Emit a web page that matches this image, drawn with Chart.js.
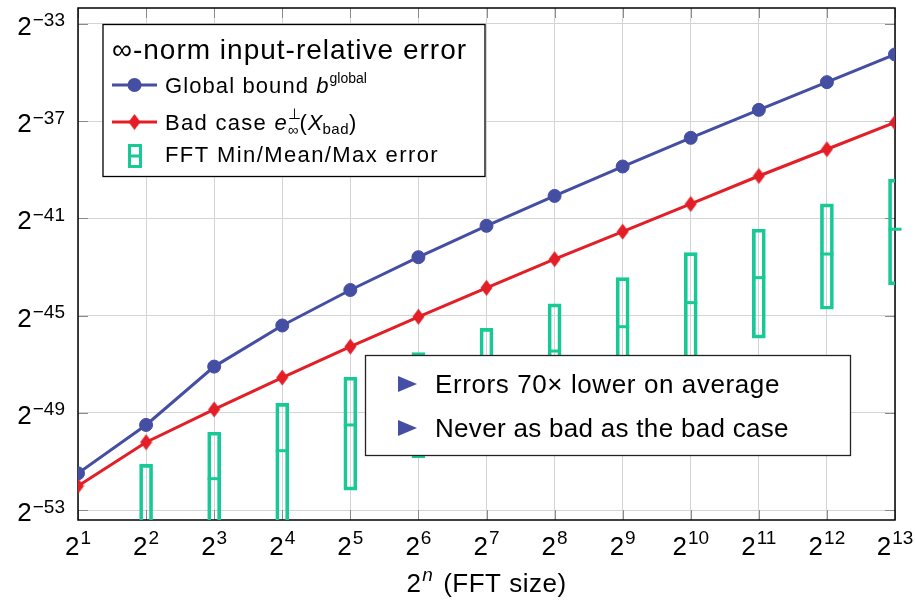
<!DOCTYPE html>
<html>
<head>
<meta charset="utf-8">
<script src="https://cdn.jsdelivr.net/npm/chart.js@4/dist/chart.umd.min.js"></script>
<style>
  html, body { margin: 0; padding: 0; background: #fff; }
  #wrap { width: 915px; height: 602px; }
</style>
</head>
<body>
<div id="wrap"><canvas id="c" width="915" height="602"></canvas></div>
<script>
// FFT size exponents n (x axis shows 2^n)
const xExps = [1, 2, 3, 4, 5, 6, 7, 8, 9, 10, 11, 12, 13];
// y axis tick exponents (values are log2 of the error)
const yTickExps = [-53, -49, -45, -41, -37, -33];

// log2 of the global error bound b^global
const globalBound = [-51.49, -49.50, -47.10, -45.41, -43.95, -42.60, -41.31, -40.08, -38.87, -37.69, -36.54, -35.40, -34.26];
// log2 of the bad-case error e_inf(X_bad)
const badCase = [-52.01, -50.21, -48.86, -47.55, -46.28, -45.05, -43.86, -42.68, -41.55, -40.41, -39.26, -38.16, -37.06];

// measured FFT errors (log2): min / mean / max per size
const fftExps = [2, 3, 4, 5, 6, 7, 8, 9, 10, 11, 12, 13];
const fftMax  = [-51.12, -49.80, -48.61, -47.54, -46.52, -45.53, -44.52, -43.44, -42.41, -41.45, -40.41, -39.39];
const fftMean = [-53.65, -51.71, -50.56, -49.50, -48.50, -47.50, -46.46, -45.46, -44.47, -43.44, -42.47, -41.45];
const fftMin  = [-55.60, -54.60, -53.75, -52.18, -50.86, -49.90, -48.90, -47.84, -46.80, -45.93, -44.74, -43.74];

const legendTitle = '\u221E-norm input-relative error';
const notes = ['Errors 70\u00D7 lower on average', 'Never as bad as the bad case'];

const BLUE = '#444ea3';
const RED = '#e31e26';
const GREEN = '#17c995';
const GRID = '#d4d4d4';
const FONT = '"Liberation Sans", Arial, sans-serif';

// tall diamond marker for the bad-case series
const diamond = document.createElement('canvas');
diamond.width = 13; diamond.height = 17;
(function () {
  const g = diamond.getContext('2d');
  g.fillStyle = RED;
  g.beginPath();
  g.moveTo(6.5, 0.5); g.lineTo(12.5, 8.5); g.lineTo(6.5, 16.5); g.lineTo(0.5, 8.5);
  g.closePath(); g.fill();
})();

function font(size, italic) {
  return (italic ? 'italic ' : '') + size + 'px ' + FONT;
}
function spacing(ctx, px) {
  if ('letterSpacing' in ctx) ctx.letterSpacing = px + 'px';
}

// draws a sequence of text runs: [text, size, italic, dy, extraGap, letterSpacing]
function runs(ctx, parts, x, y) {
  let cx = x;
  for (const p of parts) {
    ctx.font = font(p[1], p[2]);
    if (p[5] !== undefined) spacing(ctx, p[5]);
    ctx.fillText(p[0], cx, y + (p[3] || 0));
    cx += ctx.measureText(p[0]).width + (p[4] || 0);
  }
  return cx;
}
function runsWidth(ctx, parts) {
  let w = 0;
  for (const p of parts) {
    ctx.font = font(p[1], p[2]);
    if (p[5] !== undefined) spacing(ctx, p[5]);
    w += ctx.measureText(p[0]).width + (p[4] || 0);
  }
  return w;
}

const decorations = {
  id: 'decorations',
  beforeDatasetsDraw(chart) {
    const { ctx, chartArea: a } = chart;
    const xs = chart.scales.x, ys = chart.scales.y;
    ctx.save();
    // inward tick marks on all four sides
    ctx.strokeStyle = '#8a8a8a';
    ctx.lineWidth = 1;
    ctx.beginPath();
    for (const n of xExps) {
      const px = Math.round(xs.getPixelForValue(n)) + 0.5;
      ctx.moveTo(px, a.bottom); ctx.lineTo(px, a.bottom - 10);
      ctx.moveTo(px, a.top); ctx.lineTo(px, a.top + 10);
    }
    for (const v of yTickExps) {
      const py = Math.round(ys.getPixelForValue(v)) + 0.5;
      ctx.moveTo(a.left, py); ctx.lineTo(a.left + 10, py);
      ctx.moveTo(a.right, py); ctx.lineTo(a.right - 10, py);
    }
    ctx.stroke();
    // axis frame
    ctx.strokeStyle = '#000';
    ctx.lineWidth = 1.5;
    ctx.strokeRect(a.left, a.top, a.right - a.left, a.bottom - a.top);
    ctx.restore();
  },
  afterDraw(chart) {
    const { ctx, chartArea: a } = chart;
    const xs = chart.scales.x, ys = chart.scales.y;
    ctx.save();
    ctx.fillStyle = '#000';
    ctx.textAlign = 'left';
    ctx.textBaseline = 'alphabetic';

    // x tick labels 2^n
    spacing(ctx, 0);
    for (const n of xExps) {
      const parts = [['2', 26, false, 0, 1], [String(n), 19, false, -11]];
      const w = runsWidth(ctx, parts);
      runs(ctx, parts, xs.getPixelForValue(n) - w / 2, a.bottom + 35);
    }
    // y tick labels 2^-k
    for (const v of yTickExps) {
      const parts = [['2', 26, false, 0, 1], ['\u2212' + Math.abs(v), 19, false, -8.5]];
      const w = runsWidth(ctx, parts);
      runs(ctx, parts, a.left - 13 - w, ys.getPixelForValue(v) + 11);
    }
    // x axis title
    {
      const parts = [['2', 26, false, 0, 1, 0.5], ['n', 19, true, -11, 2, 0.5], [' (FFT size)', 26, false, 0, 0, 0.5]];
      const w = runsWidth(ctx, parts);
      runs(ctx, parts, (a.left + a.right) / 2 - w / 2, 592);
    }

    // legend box
    spacing(ctx, 0);
    ctx.fillStyle = '#fff';
    ctx.fillRect(103, 24.5, 382, 152);
    ctx.strokeStyle = '#000';
    ctx.lineWidth = 1.3;
    ctx.strokeRect(103, 24.5, 382, 152);
    ctx.fillStyle = '#000';
    spacing(ctx, 1);
    ctx.font = font(28);
    ctx.fillText(legendTitle, 112, 58.5);

    // entry: global bound
    spacing(ctx, 0);
    ctx.strokeStyle = BLUE; ctx.lineWidth = 3;
    ctx.beginPath(); ctx.moveTo(112, 85); ctx.lineTo(157, 85); ctx.stroke();
    ctx.fillStyle = BLUE;
    ctx.beginPath(); ctx.arc(134.5, 85, 7, 0, Math.PI * 2); ctx.fill();
    ctx.fillStyle = '#000';
    runs(ctx, [['Global bound ', 22, false, 0, 0, 1.1], ['b', 22, true, 0, 1, 0], ['global', 14, false, -10, 0, 0]], 165, 93);

    // entry: bad case
    spacing(ctx, 0);
    ctx.strokeStyle = RED; ctx.lineWidth = 3;
    ctx.beginPath(); ctx.moveTo(112, 122); ctx.lineTo(157, 122); ctx.stroke();
    ctx.drawImage(diamond, 134.5 - 6.5, 122 - 8.5);
    ctx.fillStyle = '#000';
    let cx = runs(ctx, [['Bad case ', 22, false, 0, 0, 1.3], ['e', 22, true, 0, 1, 0]], 165, 130);
    ctx.font = font(15); ctx.fillText('\u22A5', cx, 119);
    ctx.fillText('\u221E', cx, 135);
    cx += ctx.measureText('\u221E').width + 1;
    runs(ctx, [['(', 22, false, 0, 1, 0], ['X', 22, true, 0, 0, 0], ['bad', 15, false, 4, 0, 0.5], [')', 22, false, 0, 0, 0]], cx, 130);

    // entry: FFT min/mean/max
    spacing(ctx, 0);
    ctx.strokeStyle = GREEN; ctx.lineWidth = 3;
    ctx.strokeRect(129.5, 145.5, 11, 21);
    ctx.beginPath(); ctx.moveTo(128, 156); ctx.lineTo(142, 156); ctx.stroke();
    ctx.fillStyle = '#000';
    runs(ctx, [['FFT Min/Mean/Max error', 22, false, 0, 0, 1.4]], 165, 162);

    // note box
    spacing(ctx, 0);
    ctx.fillStyle = '#fff';
    ctx.fillRect(365.5, 355.5, 485, 100);
    ctx.strokeStyle = '#222'; ctx.lineWidth = 1.3;
    ctx.strokeRect(365.5, 355.5, 485, 100);
    const rows = [384, 428];
    notes.forEach((t, i) => {
      const cy = rows[i];
      ctx.fillStyle = BLUE;
      ctx.beginPath();
      ctx.moveTo(398, cy - 8); ctx.lineTo(417, cy); ctx.lineTo(398, cy + 8); ctx.closePath(); ctx.fill();
      ctx.fillStyle = '#000';
      ctx.font = font(26);
      spacing(ctx, i === 0 ? 0.6 : 0.3);
      ctx.fillText(t, 435, cy + 9);
    });
    ctx.restore();
  }
};

new Chart(document.getElementById('c'), {
  type: 'line',
  data: {
    datasets: [
      {
        label: 'Global bound',
        data: xExps.map((n, i) => ({ x: n, y: globalBound[i] })),
        borderColor: BLUE, backgroundColor: BLUE, borderWidth: 3,
        pointStyle: 'circle', pointRadius: 6.5, pointBorderWidth: 1,
        pointBackgroundColor: BLUE, pointBorderColor: BLUE, tension: 0
      },
      {
        label: 'Bad case',
        data: xExps.map((n, i) => ({ x: n, y: badCase[i] })),
        borderColor: RED, backgroundColor: RED, borderWidth: 3,
        pointStyle: diamond, pointRadius: 8, tension: 0
      },
      {
        label: 'FFT mean',
        data: fftExps.map((n, i) => ({ x: n, y: fftMean[i] })),
        showLine: false,
        pointStyle: 'line', pointRadius: 6.5, pointBorderWidth: 3,
        pointBorderColor: GREEN, pointBackgroundColor: GREEN,
        clip: { left: 12, right: 12, top: 0, bottom: 0 }
      },
      {
        type: 'bar',
        label: 'FFT min/max',
        data: fftExps.map((n, i) => ({ x: n, y: [fftMin[i], fftMax[i]] })),
        borderColor: GREEN, backgroundColor: 'rgba(0,0,0,0)',
        borderWidth: 3, borderSkipped: false, barThickness: 13,
        clip: 0
      }
    ]
  },
  options: {
    responsive: false,
    animation: false,
    events: [],
    layout: { autoPadding: false, padding: { left: 78, top: 8, right: 20, bottom: 82 } },
    plugins: { legend: { display: false }, tooltip: { enabled: false } },
    scales: {
      x: {
        type: 'linear', min: 1, max: 13, offset: false,
        ticks: { stepSize: 1, display: false },
        grid: { color: GRID, lineWidth: 1, drawTicks: false, offset: false },
        border: { display: false }
      },
      y: {
        type: 'linear', min: -53.41, max: -32.35,
        afterBuildTicks: s => { s.ticks = yTickExps.map(v => ({ value: v })); },
        ticks: { display: false },
        grid: { color: GRID, lineWidth: 1, drawTicks: false },
        border: { display: false }
      }
    }
  },
  plugins: [decorations]
});
</script>
</body>
</html>
